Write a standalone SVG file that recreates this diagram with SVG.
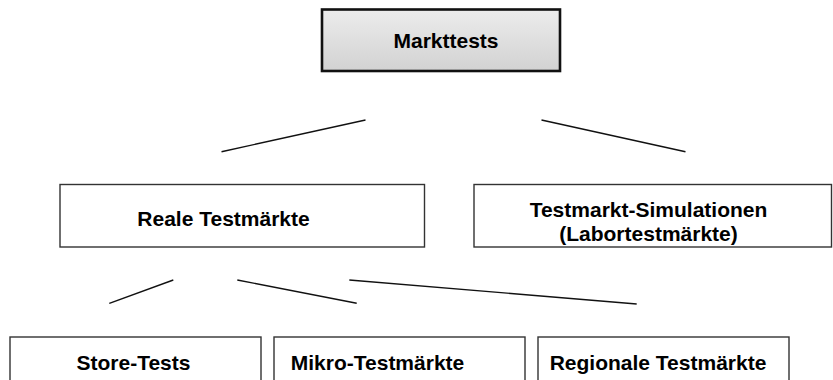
<svg xmlns="http://www.w3.org/2000/svg" width="833" height="380" viewBox="0 0 833 380">
<defs>
<linearGradient id="g" x1="0" y1="0" x2="0" y2="1">
<stop offset="0" stop-color="#ececec"/>
<stop offset="1" stop-color="#d2d2d2"/>
</linearGradient>
</defs>
<style>
.box{fill:#fff;stroke:#333;stroke-width:1.4}
.top{fill:url(#g);stroke:#111;stroke-width:2.6}
.t{font-family:"Liberation Sans",Arial,sans-serif;font-weight:bold;font-size:21px;fill:#000}
.c{text-anchor:middle}
.ln{stroke:#111;stroke-width:1.4;fill:none}
</style>
<rect width="833" height="380" fill="#fff"/>
<g id="connectors">
<line class="ln" x1="221.5" y1="151.7" x2="365.5" y2="120"/>
<line class="ln" x1="541.5" y1="120" x2="685.5" y2="151.7"/>
<line class="ln" x1="109.3" y1="303.3" x2="173.3" y2="280"/>
<line class="ln" x1="237.3" y1="280" x2="356.7" y2="303.3"/>
<line class="ln" x1="349.3" y1="280" x2="636.7" y2="304"/>
</g>
<g id="markttests">
<rect class="top" x="322" y="9.5" width="238" height="61.5"/>
<text class="t c" x="446" y="48">Markttests</text>
</g>
<g id="reale">
<rect class="box" x="60" y="184.5" width="364.5" height="62.5"/>
<text class="t c" x="223.5" y="226">Reale Testmärkte</text>
</g>
<g id="simulation">
<rect class="box" x="474" y="184.5" width="357.5" height="62.5"/>
<text class="t c" x="648.5" y="217">Testmarkt-Simulationen</text>
<text class="t c" x="648.5" y="241">(Labortestmärkte)</text>
</g>
<g id="store">
<rect class="box" x="10" y="337" width="251" height="60"/>
<text class="t c" x="133.5" y="370">Store-Tests</text>
</g>
<g id="mikro">
<rect class="box" x="274" y="337" width="251" height="60"/>
<text class="t c" x="377.5" y="370">Mikro-Testmärkte</text>
</g>
<g id="regional">
<rect class="box" x="538" y="337" width="251" height="60"/>
<text class="t c" x="658" y="370">Regionale Testmärkte</text>
</g>
</svg>
